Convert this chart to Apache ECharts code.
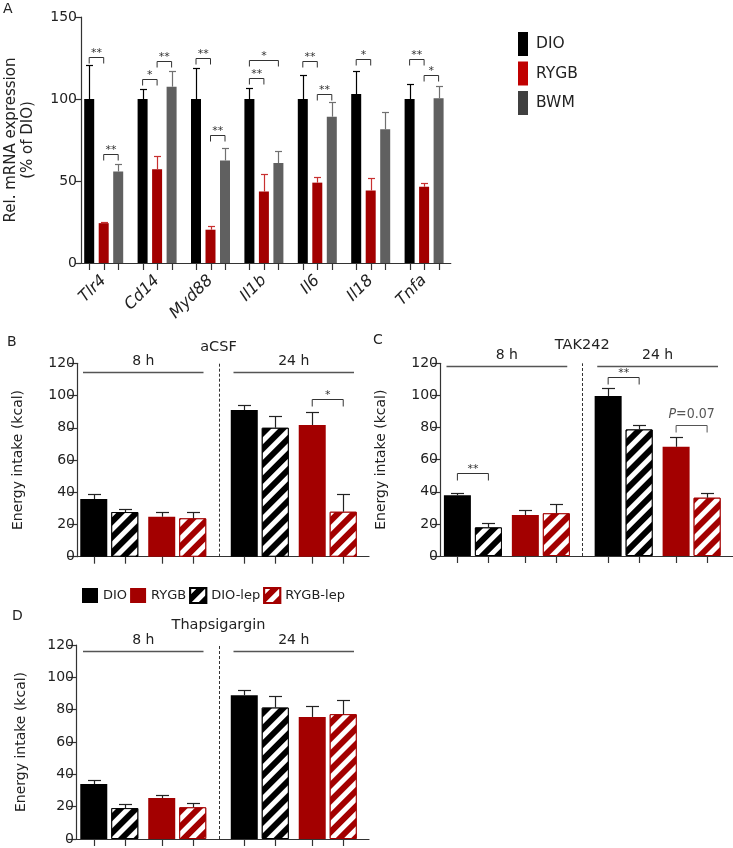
<!DOCTYPE html>
<html><head><meta charset="utf-8">
<script src="https://cdn.jsdelivr.net/npm/echarts@6/dist/echarts.min.js"></script>
<style>html,body{margin:0;padding:0;background:#fff}#c{width:733px;height:848px}</style>
</head><body><div id="c"></div>
<script>
// ---------- Panel A data ----------
const genes = ['Tlr4','Cd14','Myd88','Il1b','Il6','Il18','Tnfa'];
const aDIO     = [100, 100, 100, 100, 100, 103, 100];
const aDIOerr  = [20.7, 6, 19, 6.5, 14.4, 14.2, 9];
const aRYGB    = [24.3, 57.2, 20.3, 43.6, 49, 44.2, 46.5];
const aRYGBerr = [0.7, 7.8, 2, 10.4, 3.3, 7.5, 2.5];
const aBWM     = [55.8, 107.5, 62.5, 60.9, 89.2, 81.5, 100.4];
const aBWMerr  = [4.6, 9.5, 7.5, 7.5, 9.2, 10.8, 7.6];
const aTicks   = [0, 50, 100, 150];
// significance: [gene index, from bar, to bar, bracket level, label]
const aSig = [[0,0,1,125.8,'**'],[0,1,2,66.5,'**'],[1,0,1,112,'*'],[1,1,2,123,'**'],
  [2,0,1,124.7,'**'],[2,1,2,78,'**'],[3,0,1,112.6,'**'],[3,0,2,123.7,'*'],
  [4,0,1,123.3,'**'],[4,1,2,103,'**'],[5,0,1,124.3,'*'],[6,0,1,124.3,'**'],[6,1,2,114.6,'*']];

// ---------- Panels B-D data ----------
const times = ['8 h', '24 h'];
const eTicks = [0, 20, 40, 60, 80, 100, 120];
// B: aCSF
const bDIO = [35.8, 91],  bDIOerr = [2.9, 3.4];
const bDIOlep = [27.7, 80], bDIOlepErr = [1.9, 7.3];
const bRYGB = [24.8, 81.7], bRYGBerr = [2.9, 7.9];
const bRYGBlep = [23.8, 27.9], bRYGBlepErr = [3.9, 10.8];
const bSig = [[1,3,4,97.7,'*']];
// C: TAK242
const cDIO = [37.8, 99.6], cDIOerr = [1.6, 4.8];
const cDIOlep = [17.8, 78.8], cDIOlepErr = [2.5, 2.7];
const cRYGB = [25.5, 68], cRYGBerr = [3.1, 5.9];
const cRYGBlep = [26.6, 36.3], cRYGBlepErr = [5.8, 2.7];
const cSig = [[0,0,1,51.9,'**'],[1,0,1,111.6,'**'],[1,3,4,81.5,'P=0.07']];
// D: Thapsigargin
const dDIO = [34, 88.9], dDIOerr = [2.4, 3.3];
const dDIOlep = [19.1, 81.3], dDIOlepErr = [2.5, 7];
const dRYGB = [25.3, 75.5], dRYGBerr = [1.9, 6.6];
const dRYGBlep = [19.6, 77.2], dRYGBlepErr = [2.4, 8.8];
const dSig = [];

// ---------- style ----------
const FONT = 'DejaVu Sans';
const RED = '#a30000', GREY = '#606060', INK = '#222';
const HATCH = {symbol:'rect', symbolSize:1, dashArrayX:[1,0], dashArrayY:[4.5,5.5], rotation:-Math.PI/4, color:'#ffffff'};

// replicate ECharts bar column layout to find bar centres inside a band
function colCenters(widths, p) {
  let total = 0; widths.forEach(w => total += w * (1 + p)); total -= widths[widths.length-1] * p;
  let off = -total / 2;
  return widths.map(w => { const c = off + w / 2; off += w * (1 + p); return c; });
}
const A_W = 10, A_P = 0.45, A_OFF = colCenters([A_W, A_W, A_W], A_P);
const E_W = 27, E_SP = 5.2, E_P = 0.148, E_OFF = colCenters([E_W, E_W, E_SP, E_W, E_W], E_P);

const grids = [
  {left:77, top:17, width:373.8, height:246},
  {left:68, top:363.3, width:301, height:193.4},
  {left:431.5, top:363.3, width:301.5, height:192.7},
  {left:68, top:645, width:301, height:194}
].map(g => Object.assign({containLabel:false, outerBoundsMode:'none'}, g));

const axLine = {show:true, lineStyle:{color:'#333', width:1.2}};
const xAxes = [
  {type:'category', gridIndex:0, data:genes, axisLine:axLine, axisTick:{show:false},
   axisLabel:{interval:0, rotate:45, fontStyle:'italic', fontSize:16, fontFamily:FONT, color:INK, margin:15}}
];
for (let i = 1; i <= 3; i++) xAxes.push({type:'category', gridIndex:i, data:times, axisLine:axLine,
  axisTick:{show:false}, axisLabel:{show:false}});

function yAx(gi, ticks, offset, name, nameGap, nameSize, tickLen, margin) {
  return {type:'value', gridIndex:gi, min:ticks[0], max:ticks[ticks.length-1], interval:ticks[1]-ticks[0],
    offset, name, nameLocation:'middle', nameGap,
    nameTextStyle:{fontSize:nameSize, fontFamily:FONT, color:INK, lineHeight:17},
    axisLine:axLine, axisTick:{show:true, length:tickLen, lineStyle:{color:'#333', width:1.2}},
    axisLabel:{fontSize:14, fontFamily:FONT, color:INK, margin}, splitLine:{show:false}};
}
const yName = 'Energy intake (kcal)';
const yAxes = [
  yAx(0, aTicks, -4, 'Rel. mRNA expression\n(% of DIO)', 44, 15, 6, 4),
  yAx(1, eTicks, -9, yName, 50, 14, 8, 2),
  yAx(2, eTicks, -8.5, yName, 50, 14, 8, 2),
  yAx(3, eTicks, -8, yName, 46, 14, 8, 2)
];

const series = [];
// Panel A bars
[['DIO', aDIO, '#000'], ['RYGB', aRYGB, RED], ['BWM', aBWM, GREY]].forEach(([n, d, c]) => {
  series.push({name:n, type:'bar', xAxisIndex:0, yAxisIndex:0, data:d, barWidth:A_W, barGap:(A_P*100)+'%',
    itemStyle:{color:c}, silent:true});
});

function errSeries(xi, offs, capHalf, tickLen, colColors, items) {
  return {type:'custom', xAxisIndex:xi, yAxisIndex:xi, silent:true, z:5, clip:false, data:items,
    encode:{x:0, y:2},
    renderItem(params, api) {
      const cat = api.value(0), col = api.value(1), m = api.value(2), e = api.value(3);
      const base = api.coord([cat, 0]);
      const x = Math.round(base[0] + offs[col]) + 0.5;
      const yb = api.coord([cat, m])[1], yt = Math.round(api.coord([cat, m + e])[1]) + 0.5;
      const st = {stroke:colColors[col], lineWidth:1.2};
      return {type:'group', children:[
        {type:'line', shape:{x1:x, y1:yb, x2:x, y2:yt}, style:st},
        {type:'line', shape:{x1:x-capHalf, y1:yt, x2:x+capHalf, y2:yt}, style:st},
        {type:'line', shape:{x1:x, y1:base[1], x2:x, y2:base[1]+tickLen}, style:{stroke:'#333', lineWidth:1.2}}
      ]};
    }};
}
function sigSeries(xi, offs, legPx, sig) {
  return {type:'custom', xAxisIndex:xi, yAxisIndex:xi, silent:true, z:6, clip:false,
    data:sig.map(s => [s[0], s[1], s[2], s[3]]), encode:{x:0, y:3},
    renderItem(params, api) {
      const lab = sig[params.dataIndex][4];
      const p = api.coord([api.value(0), api.value(3)]);
      const x1 = p[0] + offs[api.value(1)], x2 = p[0] + offs[api.value(2)], y = Math.round(p[1]) + 0.5;
      const isP = lab.indexOf('P') === 0;
      const col = isP ? '#555' : '#333';
      const txt = isP ?
        {type:'text', x:(x1+x2)/2, y:y-11, style:{text:'{i|P}=0.07', fill:col, fontSize:14, fontFamily:'DejaVu Sans Condensed',
          align:'center', verticalAlign:'middle',
          rich:{i:{fontStyle:'italic', fontSize:14, fontFamily:'DejaVu Sans Condensed', fill:col, color:col}}}} :
        {type:'text', x:(x1+x2)/2, y:y-4, style:{text:lab, fill:col, fontSize:11, fontFamily:FONT, align:'center', verticalAlign:'middle'}};
      return {type:'group', children:[
        {type:'polyline', shape:{points:[[x1, y+legPx], [x1, y], [x2, y], [x2, y+legPx]]}, style:{stroke:col, lineWidth:1, fill:null}},
        txt
      ]};
    }};
}

// Panel A error bars / ticks / brackets
const aErrItems = [];
genes.forEach((g, i) => {
  aErrItems.push([i, 0, aDIO[i], aDIOerr[i]], [i, 1, aRYGB[i], aRYGBerr[i]], [i, 2, aBWM[i], aBWMerr[i]]);
});
series.push(errSeries(0, A_OFF, 3.5, 7, ['#000', '#c83030', '#707070'], aErrItems));
series.push(sigSeries(0, A_OFF, 6, aSig));

// Panels B-D
const panels = [
  {xi:1, title:'aCSF', lineVal:114.8, textVal:121.5, titleVal:130,
   d:[bDIO, bDIOlep, bRYGB, bRYGBlep], e:[bDIOerr, bDIOlepErr, bRYGBerr, bRYGBlepErr], sig:bSig},
  {xi:2, title:'TAK242', lineVal:118.3, textVal:125, titleVal:131,
   d:[cDIO, cDIOlep, cRYGB, cRYGBlep], e:[cDIOerr, cDIOlepErr, cRYGBerr, cRYGBlepErr], sig:cSig},
  {xi:3, title:'Thapsigargin', lineVal:116.4, textVal:123, titleVal:132,
   d:[dDIO, dDIOlep, dRYGB, dRYGBlep], e:[dDIOerr, dDIOlepErr, dRYGBerr, dRYGBlepErr], sig:dSig}
];
panels.forEach(P => {
  const common = {type:'bar', xAxisIndex:P.xi, yAxisIndex:P.xi, barGap:(E_P*100)+'%', silent:true};
  series.push(Object.assign({name:'DIO', data:P.d[0], barWidth:E_W, itemStyle:{color:'#000'}}, common));
  series.push(Object.assign({name:'DIO-lep', data:P.d[1], barWidth:E_W,
    itemStyle:{color:'#000', borderColor:'#000', borderWidth:1, decal:HATCH}}, common));
  series.push(Object.assign({name:'gap', data:['-', '-'], barWidth:E_SP, itemStyle:{color:'rgba(0,0,0,0)'}}, common));
  series.push(Object.assign({name:'RYGB', data:P.d[2], barWidth:E_W, itemStyle:{color:RED}}, common));
  series.push(Object.assign({name:'RYGB-lep', data:P.d[3], barWidth:E_W,
    itemStyle:{color:RED, borderColor:RED, borderWidth:1, decal:HATCH}}, common));
  const cols = [0, 1, 3, 4], items = [];
  times.forEach((t, ti) => cols.forEach((c, k) => items.push([ti, c, P.d[k][ti], P.e[k][ti]])));
  series.push(errSeries(P.xi, E_OFF, 6.5, 7, ['#222', '#222', '#222', '#222', '#222'], items));
  series.push(sigSeries(P.xi, E_OFF, 7, P.sig));
  // time group lines, labels, separator and title
  series.push({type:'custom', xAxisIndex:P.xi, yAxisIndex:P.xi, silent:true, z:6, clip:false,
    data:times.map((t, i) => [i, 0]), encode:{x:0, y:1},
    renderItem(params, api) {
      const i = api.value(0);
      const cx = api.coord([i, 0])[0], bw = api.size([1, 0])[0];
      const yl = Math.round(api.coord([i, P.lineVal])[1]) + 0.5;
      const ch = [
        {type:'line', shape:{x1:cx-bw/2+15, y1:yl, x2:cx+bw/2-15, y2:yl}, style:{stroke:'#555', lineWidth:1.3}},
        {type:'text', x:cx, y:api.coord([i, P.textVal])[1], style:{text:times[i], fill:INK, fontSize:14, fontFamily:FONT, align:'center', verticalAlign:'middle'}}
      ];
      if (i === 1) {
        const xs = Math.round(cx - bw/2) + 0.5;
        ch.push({type:'line', shape:{x1:xs, y1:api.coord([i, 0])[1], x2:xs, y2:api.coord([i, 120])[1]},
          style:{stroke:'#333', lineWidth:1, lineDash:[3, 2]}});
        ch.push({type:'text', x:cx - bw/2, y:api.coord([i, P.titleVal])[1], style:{text:P.title, fill:INK, fontSize:14.5, fontFamily:FONT, align:'center', verticalAlign:'middle'}});
      }
      return {type:'group', children:ch};
    }});
});

const option = {
  animation:false,
  backgroundColor:'#fff',
  textStyle:{fontFamily:FONT},
  grid:grids, xAxis:xAxes, yAxis:yAxes, series,
  legend:[
    {orient:'vertical', left:513, top:27, icon:'rect', itemWidth:10, itemHeight:24, itemGap:5.5, selectedMode:false,
     data:[{name:'DIO'}, {name:'RYGB', itemStyle:{color:'#c00000'}}, {name:'BWM', itemStyle:{color:'#404040'}}],
     textStyle:{fontSize:15.5, fontFamily:FONT, color:INK, padding:[0, 0, 0, 3]}},
    {orient:'horizontal', left:77, top:582, icon:'rect', itemWidth:16, itemHeight:15, itemGap:3, selectedMode:false,
     data:['DIO', 'RYGB', 'DIO-lep', 'RYGB-lep'],
     textStyle:{fontSize:13, fontFamily:FONT, color:INK}}
  ],
  graphic:[
    {type:'text', left:3, top:2, style:{text:'A', fontSize:14, fontFamily:FONT, fill:INK}},
    {type:'text', left:7, top:335, style:{text:'B', fontSize:14, fontFamily:FONT, fill:INK}},
    {type:'text', left:373, top:333, style:{text:'C', fontSize:14, fontFamily:FONT, fill:INK}},
    {type:'text', left:12, top:609, style:{text:'D', fontSize:14, fontFamily:FONT, fill:INK}}
  ]
};
const chart = echarts.init(document.getElementById('c'), null, {renderer:'canvas', width:733, height:848});
chart.setOption(option);
</script></body></html>
